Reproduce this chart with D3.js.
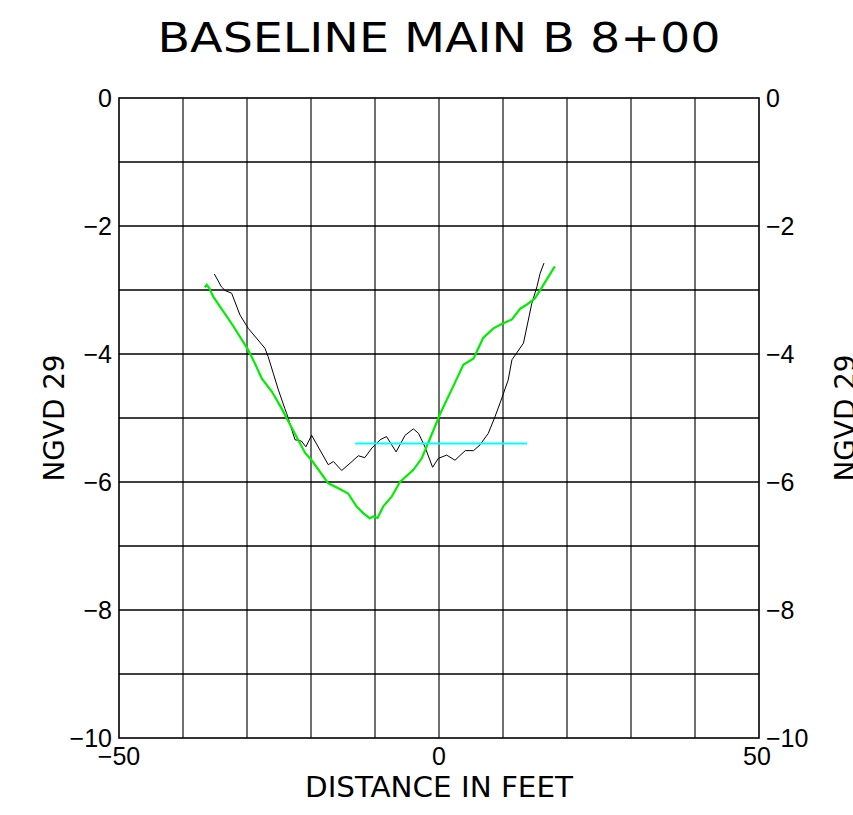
<!DOCTYPE html>
<html><head><meta charset="utf-8">
<script src="https://cdn.jsdelivr.net/npm/d3@7"></script>
<style>body{margin:0;background:#fff}svg{display:block}text{font-family:"Liberation Sans Narrow","DejaVu Sans Condensed","Liberation Sans",sans-serif;fill:#000}text.tk{font-family:"Liberation Sans",Arial,sans-serif}</style>
</head><body>
<script>
const title = "BASELINE MAIN B 8+00";
const xLabel = "DISTANCE IN FEET";
const yLabel = "NGVD 29";
const xTicks = [-50, 0, 50];
const yTicks = [0, -2, -4, -6, -8, -10];
const xGrid = [-40, -30, -20, -10, 0, 10, 20, 30, 40];
const yGrid = [-1, -2, -3, -4, -5, -6, -7, -8, -9];

// black survey profile
const blackX = [-35.1,-34.0,-33.4,-32.4,-31.1,-29.8,-27.2,-26.7,-25.9,-25.1,-24.1,-23.8,-22.5,-21.5,-20.8,-19.9,-17.3,-16.5,-15.2,-13.6,-12.6,-11.6,-10.5,-9.2,-8.2,-6.7,-5.3,-4.0,-3.2,-2.2,-1.0,-0.1,1.2,2.5,4.1,5.4,6.4,7.7,8.75,9.6,10.8,11.4,13.2,14.5,15.3,15.8,16.4];
const blackY = [-2.75,-2.95,-3.01,-3.05,-3.39,-3.60,-3.91,-4.04,-4.30,-4.56,-4.85,-4.93,-5.34,-5.36,-5.45,-5.27,-5.73,-5.68,-5.82,-5.68,-5.59,-5.62,-5.47,-5.34,-5.29,-5.53,-5.27,-5.17,-5.24,-5.45,-5.77,-5.63,-5.58,-5.66,-5.51,-5.51,-5.42,-5.24,-4.98,-4.75,-4.41,-4.09,-3.83,-3.21,-2.95,-2.74,-2.58];

// green survey profile
const greenX = [-36.6,-36.3,-35.9,-35.3,-34.0,-32.1,-29.8,-28.75,-27.7,-26.1,-24.6,-22.8,-20.9,-19.9,-17.3,-15.5,-14.2,-12.9,-11.8,-10.8,-10.3,-9.6,-8.7,-7.4,-6.1,-4.0,-2.7,-1.4,0.2,2.2,3.8,5.4,6.9,8.5,9.8,11.4,12.7,13.7,15.0,16.0,18.1];
const greenY = [-2.96,-2.92,-2.97,-3.10,-3.29,-3.57,-3.94,-4.15,-4.38,-4.59,-4.85,-5.19,-5.55,-5.66,-6.02,-6.11,-6.18,-6.38,-6.49,-6.57,-6.54,-6.56,-6.38,-6.23,-6.00,-5.81,-5.63,-5.32,-4.93,-4.51,-4.17,-4.07,-3.75,-3.60,-3.53,-3.46,-3.29,-3.23,-3.13,-2.97,-2.63];

// cyan water level
const cyanX = [-13.1, 13.75];
const cyanY = [-5.40, -5.40];

const W = 853, H = 815;
const L = 119, R = 759, T = 98, B = 738;
const svg = d3.select("body").append("svg").attr("width", W).attr("height", H);
const x = d3.scaleLinear().domain([-50, 50]).range([L, R]);
const y = d3.scaleLinear().domain([-10, 0]).range([B, T]);

const g = svg.append("g");
g.selectAll(".gx").data(xGrid).join("line")
  .attr("x1", d => x(d)).attr("x2", d => x(d)).attr("y1", T).attr("y2", B)
  .attr("stroke", "#222").attr("stroke-width", 1.3);
g.selectAll(".gy").data(yGrid).join("line")
  .attr("y1", d => y(d)).attr("y2", d => y(d)).attr("x1", L).attr("x2", R)
  .attr("stroke", "#000").attr("stroke-width", 1.3);
g.append("rect").attr("x", L).attr("y", T).attr("width", R - L).attr("height", B - T)
  .attr("fill", "none").attr("stroke", "#000").attr("stroke-width", 1.6);

const line = d3.line().x(d => x(d[0])).y(d => y(d[1]));
svg.append("path").datum(blackX.map((v, i) => [v, blackY[i]])).attr("d", line)
  .attr("fill", "none").attr("stroke", "#000").attr("stroke-width", 1);
svg.append("path").datum(greenX.map((v, i) => [v, greenY[i]])).attr("d", line)
  .attr("fill", "none").attr("stroke", "#00ee00").attr("stroke-width", 2.2);
svg.append("path").datum(cyanX.map((v, i) => [v, cyanY[i]])).attr("d", line)
  .attr("fill", "none").attr("stroke", "#00ffff").attr("stroke-width", 2);

const fmt = d => d < 0 ? "\u2212" + Math.abs(d) : String(d);
// y tick labels left & right
svg.selectAll(".yl").data(yTicks).join("text").attr("class", "tk")
  .attr("x", L - 7).attr("y", d => y(d) + 9).attr("text-anchor", "end")
  .attr("font-size", 25).text(fmt);
svg.selectAll(".yr").data(yTicks).join("text").attr("class", "tk")
  .attr("x", R + 7).attr("y", d => y(d) + 9).attr("text-anchor", "start")
  .attr("font-size", 25).text(fmt);
// x tick labels
svg.selectAll(".xl").data(xTicks).join("text").attr("class", "tk")
  .attr("x", d => x(d) - (d === 50 ? 2 : 0)).attr("y", B + 27).attr("text-anchor", "middle")
  .attr("font-size", 25).text(fmt);

svg.append("text").attr("x", 439).attr("y", 52).attr("text-anchor", "middle")
  .attr("font-size", 40).attr("textLength", 563).attr("lengthAdjust", "spacingAndGlyphs").text(title);
svg.append("text").attr("x", 439).attr("y", 797).attr("text-anchor", "middle")
  .attr("font-size", 28).attr("textLength", 268).attr("lengthAdjust", "spacingAndGlyphs").text(xLabel);
svg.append("text").attr("transform", "translate(64,418) rotate(-90)").attr("text-anchor", "middle")
  .attr("font-size", 28).attr("textLength", 127).attr("lengthAdjust", "spacingAndGlyphs").text(yLabel);
svg.append("text").attr("transform", "translate(855,418) rotate(-90)").attr("text-anchor", "middle")
  .attr("font-size", 28).attr("textLength", 127).attr("lengthAdjust", "spacingAndGlyphs").text(yLabel);
</script>
</body></html>
